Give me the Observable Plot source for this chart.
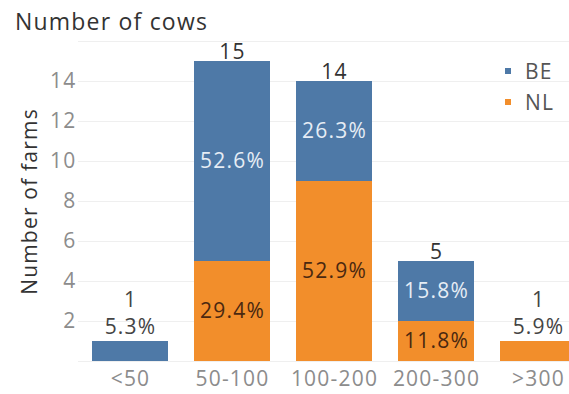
<!DOCTYPE html>
<html>
<head>
<meta charset="utf-8">
<script src="https://cdn.jsdelivr.net/npm/d3@7"></script>
<script src="https://cdn.jsdelivr.net/npm/@observablehq/plot@0.6"></script>
<style>
  body { margin: 0; background: #fff; }
  #chart { position: relative; width: 569px; height: 394px; overflow: hidden; font-family: "Open Sans", sans-serif; }
  #title { position: absolute; left: 15px; top: 4px; font-size: 23px; color: #333; letter-spacing: 1.2px; line-height: 34px; white-space: nowrap; }
  #legend { position: absolute; left: 505px; top: 55px; }
  div.lg-swatches-wrap { display: flex; flex-direction: column; align-items: flex-start; min-height: 0; }
  div.lg-swatches-wrap .lg-swatch { display: flex; align-items: center; height: 31px; margin: 0; }
  div.lg-swatches-wrap .lg-swatch > svg { margin-right: 14px; }
  svg text { letter-spacing: 1.2px; }
</style>
</head>
<body>
<div id="chart">
  <div id="title">Number of cows</div>
  <div id="legend"></div>
</div>
<script>
// Herd-size bins and number of farms per country
const bins = ["<50", "50-100", "100-200", "200-300", ">300"];
const beFarms = [1, 10, 5, 3, 0];
const nlFarms = [0, 5, 9, 2, 1];
const series = ["BE", "NL"];
const colors = ["#4e79a7", "#f28e2b"];
const yTicks = [2, 4, 6, 8, 10, 12, 14];
const gridTicks = [0, 2, 4, 6, 8, 10, 12, 14, 16];
const yTitle = "Number of farms";

// Long table: NL rows first so they stack at the bottom
const totalsBy = {BE: d3.sum(beFarms), NL: d3.sum(nlFarms)};
const rows = [
  ...bins.map((bin, i) => ({bin, country: "NL", count: nlFarms[i]})),
  ...bins.map((bin, i) => ({bin, country: "BE", count: beFarms[i]}))
].map(d => ({...d, pct: (100 * d.count / totalsBy[d.country]).toFixed(1) + "%"}));

// Segments tall enough to carry their share inside; thin ones put it above the bar
const inside = rows.filter(d => d.count >= 2);
const thin = rows.filter(d => d.count > 0 && d.count < 2);

const totals = bins.map((bin, i) => {
  const total = beFarms[i] + nlFarms[i];
  const small = thin.find(d => d.bin === bin);
  return {bin, total, small: !!small, text: small ? `${total}\n${small.pct}` : `${total}`};
});

const font = "Open Sans, sans-serif";
const fs = 21;

const plot = Plot.plot({
  width: 569,
  height: 394,
  marginTop: 41,
  marginBottom: 33,
  marginLeft: 78,
  marginRight: 0,
  style: {fontFamily: font, background: "transparent", overflow: "hidden"},
  x: {domain: bins, range: [78, 590], paddingInner: 0.255, paddingOuter: 0.137},
  y: {domain: [0, 16]},
  color: {domain: series, range: colors},
  marks: [
    Plot.gridY(gridTicks, {stroke: "#efefef", strokeOpacity: 1}),
    Plot.barY(rows, {x: "bin", y: "count", fill: "country"}),
    Plot.axisY(yTicks, {tickSize: 0, tickPadding: 2, fontSize: fs, fill: "#8c8c8c", label: null}),
    Plot.axisX({tickSize: 0, tickPadding: 10, fontSize: fs, fill: "#8c8c8c", label: null}),
    Plot.text(inside, Plot.stackY({
      x: "bin", y: "count", z: "country", text: "pct", fontSize: fs,
      fill: d => d.country === "BE" ? "#e6edf5" : "#4a2810"
    })),
    // bar totals
    Plot.text(totals.filter(d => !d.small), {
      x: "bin", y: "total", text: "text", lineAnchor: "bottom", dy: -3,
      fontSize: fs, fill: "#333"
    }),
    // total plus share above bars too thin to hold a label
    Plot.text(totals.filter(d => d.small), {
      x: "bin", y: "total", text: "text", lineAnchor: "bottom", dy: -8,
      lineHeight: 1.25, fontSize: fs, fill: "#444"
    }),
    Plot.text([yTitle], {
      frameAnchor: "left", textAnchor: "middle", rotate: -90, dx: -48, text: d => d,
      fontSize: fs, fill: "#333"
    })
  ]
});
document.getElementById("chart").prepend(plot);

const legend = Plot.legend({
  color: {domain: series, range: colors},
  legend: "swatches",
  swatchSize: 6,
  className: "lg",
  style: {fontSize: "21px", fontFamily: font, color: "#555", letterSpacing: "1.2px"}
});
document.getElementById("legend").append(legend);
</script>
</body>
</html>
